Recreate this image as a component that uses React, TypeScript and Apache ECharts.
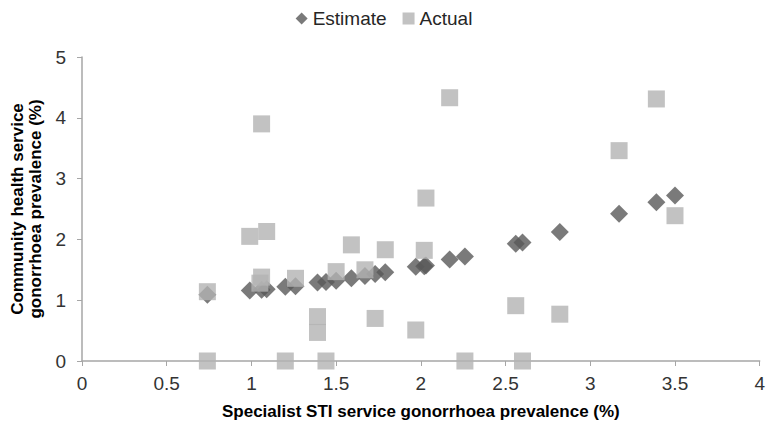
import React, { useEffect, useRef } from "react";
import * as echarts from "echarts";

const estimateX = [0.74, 0.99, 1.06, 1.09, 1.2, 1.26, 1.39, 1.44, 1.5, 1.59, 1.67, 1.73, 1.79, 1.97, 2.02, 2.03, 2.17, 2.26, 2.56, 2.6, 2.82, 3.17, 3.39, 3.5];
const estimateY = [1.09, 1.16, 1.17, 1.18, 1.22, 1.23, 1.29, 1.3, 1.32, 1.36, 1.4, 1.43, 1.46, 1.55, 1.56, 1.57, 1.67, 1.72, 1.93, 1.95, 2.12, 2.42, 2.61, 2.72];

const actualX = [0.74, 0.74, 0.99, 1.06, 1.06, 1.05, 1.09, 1.2, 1.26, 1.39, 1.39, 1.44, 1.5, 1.59, 1.67, 1.73, 1.79, 1.97, 2.02, 2.03, 2.17, 2.26, 2.56, 2.6, 2.82, 3.17, 3.39, 3.5];
const actualY = [1.14, 0, 2.05, 3.9, 1.38, 1.28, 2.13, 0, 1.36, 0.73, 0.47, 0, 1.47, 1.91, 1.5, 0.7, 1.83, 0.51, 1.82, 2.68, 4.33, 0, 0.91, 0, 0.77, 3.46, 4.31, 2.39];

const xTitle = "Specialist STI service gonorrhoea prevalence (%)";
const yTitle = "Community health service\ngonorrhoea prevalence (%)";

export default function App() {
  const ref = useRef<HTMLDivElement>(null);
  useEffect(() => {
    if (!ref.current) return;
    const chart = echarts.init(ref.current, null, { renderer: "svg" });
    const font = "'Liberation Sans', Arial, sans-serif";
    chart.setOption({
      animation: false,
      textStyle: { fontFamily: font },
      legend: {
        top: 4,
        left: "center",
        itemWidth: 12,
        itemHeight: 12,
        itemGap: 16,
        textStyle: { fontSize: 19, color: "#262626", fontFamily: font },
        data: [
          { name: "Estimate", icon: "diamond" },
          { name: "Actual", icon: "rect" },
        ],
      },
      grid: { left: 82, right: 6, top: 57, bottom: 65, containLabel: false },
      xAxis: {
        type: "value",
        min: 0,
        max: 4,
        interval: 0.5,
        name: xTitle,
        nameLocation: "middle",
        nameGap: 42,
        nameTextStyle: { fontSize: 17, fontWeight: "bold", color: "#000", fontFamily: font },
        axisLine: { show: true, lineStyle: { color: "#a6a6a6", width: 1.5 } },
        axisTick: { show: true, length: 5, lineStyle: { color: "#a6a6a6" } },
        axisLabel: { fontSize: 19, color: "#333", margin: 13, fontFamily: font },
        splitLine: { show: false },
      },
      yAxis: {
        type: "value",
        min: 0,
        max: 5,
        interval: 1,
        name: yTitle,
        nameLocation: "middle",
        nameGap: 35,
        nameTextStyle: { fontSize: 17, fontWeight: "bold", color: "#000", lineHeight: 18, fontFamily: font },
        axisLine: { show: true, lineStyle: { color: "#a6a6a6", width: 1.5 } },
        axisTick: { show: true, length: 5, lineStyle: { color: "#a6a6a6" } },
        axisLabel: { fontSize: 19, color: "#333", margin: 16, fontFamily: font },
        splitLine: { show: false },
      },
      series: [
        {
          name: "Estimate",
          type: "scatter",
          symbol: "diamond",
          symbolSize: 18,
          itemStyle: { color: "#595959" },
          data: estimateX.map((x, i) => [x, estimateY[i]]),
          z: 2,
        },
        {
          name: "Actual",
          type: "scatter",
          symbol: "rect",
          symbolSize: 17,
          itemStyle: { color: "#b3b3b3" },
          data: actualX.map((x, i) => [x, actualY[i]]),
          z: 3,
        },
      ],
    });
    return () => chart.dispose();
  }, []);
  return <div ref={ref} style={{ width: 768, height: 426, position: "absolute", left: 0, top: 0 }} />;
}
